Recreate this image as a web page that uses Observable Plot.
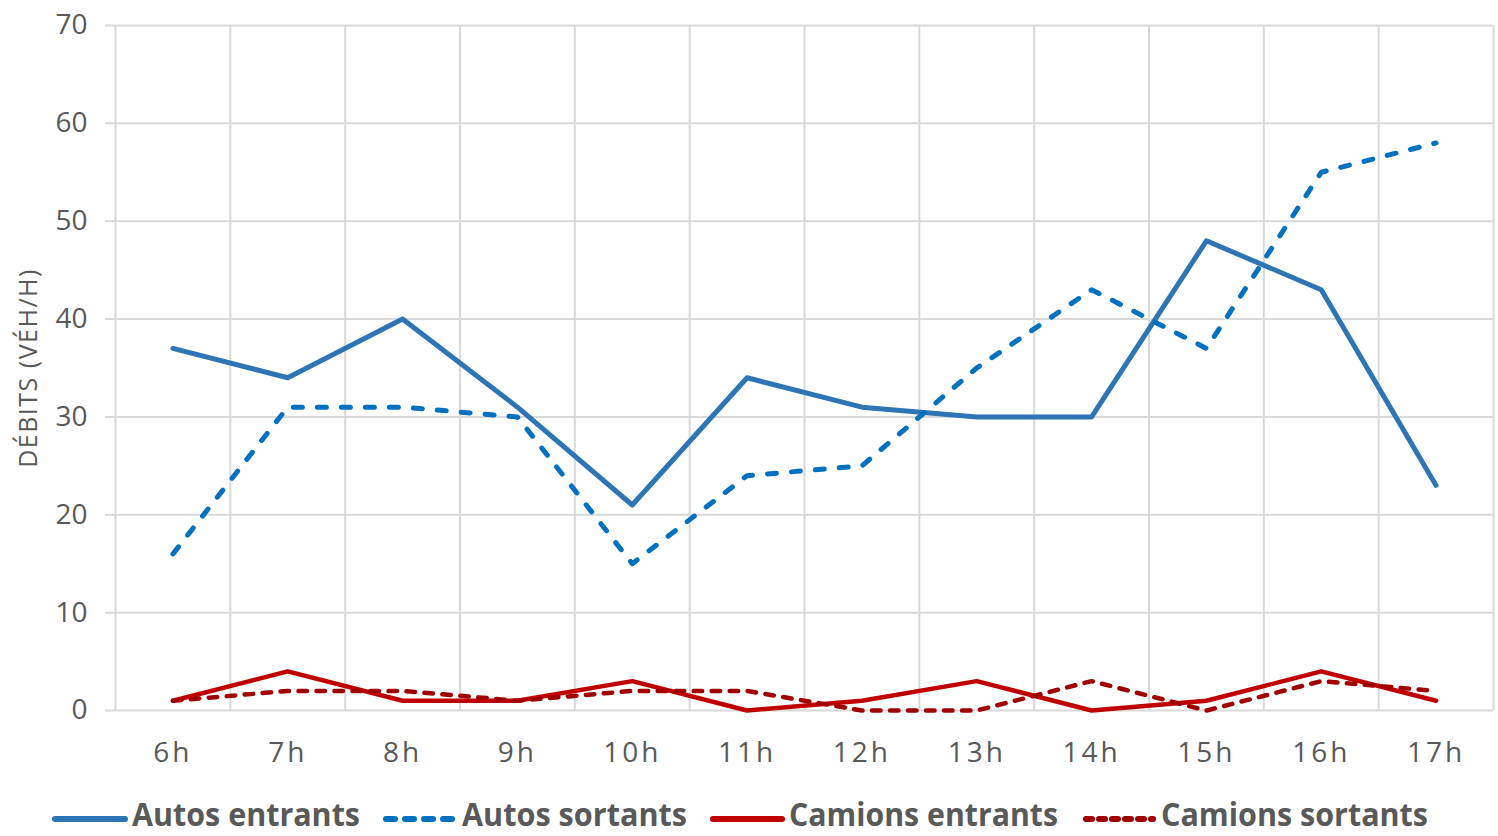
<!DOCTYPE html>
<html>
<head>
<meta charset="utf-8">
<script src="https://cdn.jsdelivr.net/npm/d3@7"></script>
<script src="https://cdn.jsdelivr.net/npm/@observablehq/plot@0.6"></script>
<style>
  html, body { margin: 0; padding: 0; background: #fff; overflow: hidden; }
  #chart { position: relative; width: 1498px; height: 836px; font-family: "Open Sans", sans-serif; }
  #chart svg { display: block; }
  g[aria-label="x-axis tick label"] text { letter-spacing: 3px; }
</style>
</head>
<body>
<div id="chart"></div>
<script>
const hours = ["6h","7h","8h","9h","10h","11h","12h","13h","14h","15h","16h","17h"];
const autosEntrants  = [37, 34, 40, 31, 21, 34, 31, 30, 30, 48, 43, 23];
const autosSortants  = [16, 31, 31, 30, 15, 24, 25, 35, 43, 37, 55, 58];
const camionsEntrants = [1, 4, 1, 1, 3, 0, 1, 3, 0, 1, 4, 1];
const camionsSortants = [1, 2, 2, 1, 2, 2, 0, 0, 3, 0, 3, 2];
const seriesNames = ["Autos entrants", "Autos sortants", "Camions entrants", "Camions sortants"];
const yTicks = [0, 10, 20, 30, 40, 50, 60, 70];
const yLabel = "DÉBITS (VÉH/H)";

const styles = [
  {stroke: "#2E75B6", strokeWidth: 5, dash: null},
  {stroke: "#0070C0", strokeWidth: 5, dash: "9,15"},
  {stroke: "#C00000", strokeWidth: 4.5, dash: null},
  {stroke: "#A00000", strokeWidth: 4.5, dash: "8.5,9.5"}
];
const allSeries = [autosEntrants, autosSortants, camionsEntrants, camionsSortants];
const idx = hours.map((h, i) => i);
const bounds = d3.range(hours.length + 1).map(i => i - 0.5);

const textColor = "#595959";
const gridColor = "#D9D9D9";

const lineMarks = allSeries.map((vals, s) =>
  Plot.line(idx, {
    x: i => i, y: i => vals[i],
    stroke: styles[s].stroke, strokeWidth: styles[s].strokeWidth,
    strokeDasharray: styles[s].dash, strokeLinecap: "round", strokeLinejoin: "round"
  })
);

const plot = Plot.plot({
  width: 1498,
  height: 775,
  marginTop: 25,
  marginBottom: 65,
  marginLeft: 115,
  marginRight: 5,
  style: {fontFamily: "Open Sans, sans-serif", color: textColor, background: "#fff"},
  x: {domain: [-0.5, hours.length - 0.5]},
  y: {domain: [0, 70]},
  marks: [
    Plot.ruleX(bounds, {x: d => d, stroke: gridColor, strokeWidth: 2}),
    Plot.ruleY(yTicks, {y: d => d, stroke: gridColor, strokeWidth: 2, insetLeft: -10}),
    Plot.axisX(idx, {tickFormat: i => hours[i], tickSize: 0, tickPadding: 32, fontSize: 28, fill: textColor, label: null}),
    Plot.axisY(yTicks, {tickSize: 0, tickPadding: 28, fontSize: 28, fill: textColor, label: null}),
    Plot.text([yLabel], {text: d => d, frameAnchor: "left", textAnchor: "middle", rotate: -90, dx: -87, fontSize: 25, fill: textColor}),
    ...lineMarks
  ]
});
d3.select(plot).selectAll("text").filter(function() { return this.textContent === yLabel; })
  .style("letter-spacing", "1.5px");
document.getElementById("chart").appendChild(plot);

// Legend below the plot
const legendItems = [
  {x0: 55, x1: 125, tx: 132, tw: 228},
  {x0: 386, x1: 455, tx: 462, tw: 225},
  {x0: 713, x1: 782, tx: 789, tw: 269},
  {x0: 1086, x1: 1153, tx: 1161, tw: 267}
];
const legendDash = [null, "9,10", null, "6,7"];
const lg = d3.select("#chart").append("svg").attr("width", 1498).attr("height", 61);
seriesNames.forEach((name, s) => {
  const it = legendItems[s];
  lg.append("line").attr("x1", it.x0).attr("x2", it.x1).attr("y1", 44).attr("y2", 44)
    .attr("stroke", styles[s].stroke).attr("stroke-width", 6).attr("stroke-linecap", "round")
    .attr("stroke-dasharray", legendDash[s]);
  lg.append("text").attr("x", it.tx).attr("y", 51).text(name)
    .attr("font-family", "Open Sans, sans-serif").attr("font-weight", "bold").attr("font-size", 32)
    .attr("fill", textColor).attr("textLength", it.tw).attr("lengthAdjust", "spacingAndGlyphs");
});
</script>
</body>
</html>
